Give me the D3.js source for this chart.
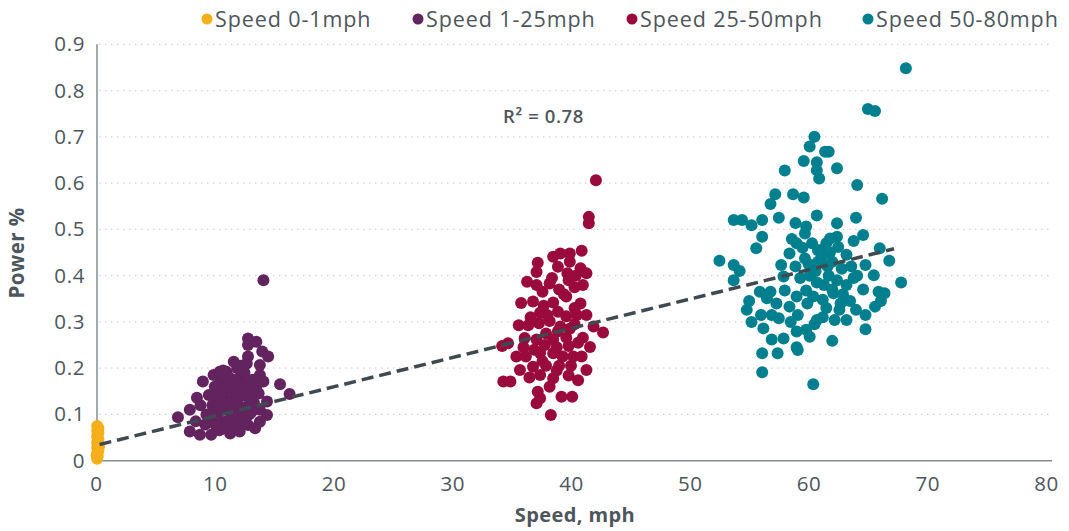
<!DOCTYPE html>
<html>
<head>
<meta charset="utf-8">
<script src="https://cdn.jsdelivr.net/npm/d3@7"></script>
<style>
  body { margin: 0; background: #fff; }
  svg { display: block; font-family: "Open Sans", sans-serif; }
</style>
</head>
<body>
<svg id="chart" width="1069" height="531"></svg>
<script>
// series names and colours
const seriesNames = ["Speed 0-1mph", "Speed 1-25mph", "Speed 25-50mph", "Speed 50-80mph"];
const seriesColors = ["#F4AF1B", "#63235F", "#9A0A3C", "#00808F"];

// [speed mph, power fraction]
const idlePts = [
  [0.1,0.004],[0.15,0.010],[0.1,0.016],[0.2,0.022],[0.1,0.028],[0.15,0.034],[0.1,0.040],[0.2,0.046],
  [0.1,0.052],[0.15,0.058],[0.1,0.064],[0.2,0.070],[0.1,0.075],[0.25,0.030],[0.05,0.012],[0.2,0.060]
];

const lowPts = [
  [6.9,0.094],[7.9,0.110],[8.5,0.136],[9.0,0.171],[9.5,0.142],[8.8,0.120],[7.9,0.063],[8.75,0.056],
  [9.7,0.056],[10.4,0.066],[11.3,0.059],[12.1,0.063],[12.8,0.077],[13.8,0.084],[14.4,0.099],[14.4,0.128],
  [13.8,0.110],[12.8,0.264],[13.5,0.257],[12.8,0.250],[14.0,0.236],[14.5,0.225],[12.8,0.225],[12.7,0.210],
  [11.6,0.214],[12.2,0.205],[13.8,0.207],[13.8,0.185],[14.1,0.171],[13.5,0.160],[15.5,0.165],[16.3,0.144],
  [10.4,0.192],[11.0,0.192],[9.9,0.185],[14.1,0.390],
  [10.0,0.160],[10.5,0.170],[11.2,0.180],[11.8,0.175],[12.3,0.185],[10.2,0.140],[10.8,0.150],[11.5,0.155],
  [12.0,0.160],[12.6,0.165],[13.1,0.150],[9.8,0.120],[10.4,0.125],[11.0,0.130],[11.6,0.135],[12.2,0.140],
  [12.9,0.135],[13.3,0.125],[9.3,0.100],[10.0,0.105],[10.7,0.110],[11.3,0.115],[11.9,0.110],[12.5,0.115],
  [13.1,0.105],[9.6,0.085],[10.3,0.090],[11.0,0.085],[11.7,0.090],[12.3,0.095],[12.9,0.100],[10.1,0.075],
  [10.8,0.070],[11.6,0.075],[12.4,0.080],[9.2,0.078],[13.4,0.070],[8.4,0.085],[13.7,0.145],[12.5,0.190],
  [11.9,0.200],[10.7,0.195],[12.0,0.120],[11.4,0.100],[10.6,0.140],[12.7,0.150],[13.2,0.175],[11.3,0.165]
];

const midPts = [
  [42.1,0.606],[41.5,0.527],[41.5,0.513],[40.9,0.454],[39.9,0.448],[39.1,0.448],[38.5,0.441],[38.9,0.419],
  [37.2,0.428],[37.1,0.408],[36.3,0.387],[37.1,0.380],[40.8,0.416],[41.3,0.405],[39.7,0.405],[41.0,0.380],
  [40.3,0.375],[38.2,0.383],[39.0,0.370],[39.6,0.355],[35.8,0.341],[36.8,0.344],[37.7,0.335],[38.5,0.342],
  [40.8,0.340],[40.3,0.330],[41.3,0.315],[40.5,0.315],[39.6,0.312],[35.6,0.293],[36.4,0.293],[37.3,0.297],
  [38.2,0.302],[39.1,0.290],[41.9,0.290],[42.7,0.277],[34.2,0.248],[34.7,0.254],[36.1,0.265],[37.1,0.262],
  [38.5,0.262],[39.6,0.266],[41.0,0.266],[41.6,0.246],[35.4,0.225],[36.2,0.225],[37.4,0.233],[38.5,0.232],
  [40.2,0.225],[40.9,0.225],[35.7,0.196],[36.8,0.203],[37.9,0.205],[39.0,0.205],[41.3,0.196],[40.6,0.174],
  [39.8,0.184],[34.3,0.171],[34.9,0.171],[37.4,0.185],[38.5,0.178],[38.2,0.160],[37.2,0.149],[37.1,0.124],
  [37.4,0.135],[39.2,0.138],[40.1,0.138],[38.3,0.099],
  [37.8,0.250],[38.8,0.245],[39.8,0.248],[37.9,0.275],[38.9,0.280],[39.9,0.285],[40.3,0.295],[38.0,0.315],
  [38.9,0.322],[37.4,0.320],[36.9,0.240],[39.3,0.225],[38.8,0.195],[39.4,0.360],[38.4,0.395],[39.8,0.390],
  [40.4,0.400],[39.9,0.430],[37.6,0.365],[36.6,0.310],[36.0,0.245],[40.6,0.255],[40.0,0.205],[37.6,0.215],
  [36.5,0.180]
];

const highPts = [
  [65.0,0.760],[65.6,0.756],[68.2,0.848],[60.5,0.700],[60.1,0.679],[61.4,0.668],[61.7,0.668],[59.6,0.648],
  [60.7,0.645],[62.4,0.632],[60.7,0.628],[60.9,0.610],[58.0,0.627],[64.1,0.596],[66.2,0.566],[57.2,0.576],
  [56.8,0.555],[58.7,0.576],[59.6,0.569],[53.7,0.520],[54.4,0.520],[55.2,0.509],[56.1,0.520],[57.5,0.525],
  [60.7,0.530],[58.9,0.514],[59.8,0.506],[59.7,0.491],[62.4,0.513],[64.0,0.525],[56.1,0.484],[58.6,0.479],
  [55.6,0.459],[64.6,0.488],[63.8,0.475],[62.4,0.484],[61.5,0.470],[60.8,0.455],[62.5,0.462],[58.4,0.448],
  [59.7,0.437],[52.5,0.432],[53.7,0.423],[54.2,0.410],[57.7,0.423],[58.9,0.420],[61.1,0.440],[62.0,0.430],
  [63.2,0.445],[66.0,0.459],[66.8,0.432],[53.7,0.390],[57.9,0.398],[60.1,0.400],[61.7,0.400],[62.4,0.390],
  [64.8,0.423],[65.5,0.401],[64.1,0.400],[67.8,0.385],[55.9,0.365],[56.8,0.365],[56.5,0.351],[58.0,0.368],
  [59.0,0.355],[59.8,0.368],[60.7,0.385],[61.2,0.348],[63.2,0.380],[64.6,0.370],[65.9,0.365],[66.4,0.362],
  [66.1,0.345],[65.6,0.333],[62.1,0.362],[54.8,0.326],[55.2,0.300],[56.0,0.315],[56.9,0.315],[57.5,0.308],
  [56.2,0.286],[58.4,0.333],[59.1,0.315],[59.9,0.340],[60.7,0.304],[60.5,0.295],[62.6,0.326],[62.2,0.304],
  [63.2,0.304],[63.5,0.345],[64.0,0.326],[64.8,0.315],[64.8,0.284],[56.9,0.262],[57.9,0.264],[59.0,0.279],
  [59.8,0.283],[60.1,0.268],[59.0,0.245],[59.1,0.239],[62.0,0.259],[56.1,0.232],[57.4,0.232],[56.1,0.191],
  [60.4,0.165],
  [59.5,0.460],[60.3,0.470],[61.0,0.455],[61.8,0.450],[60.0,0.425],[60.8,0.430],[61.6,0.420],[62.8,0.415],
  [63.6,0.420],[59.3,0.395],[60.6,0.410],[61.3,0.380],[62.0,0.370],[62.9,0.360],[60.4,0.355],[61.5,0.330],
  [62.7,0.340],[63.8,0.395],[58.5,0.300],[61.2,0.310],[57.3,0.340],[55.0,0.345],[61.8,0.480],[59.0,0.470]
];

const seriesPoints = [idlePts, lowPts, midPts, highPts];

// linear trend
const trendSpeed = [0.3, 67.2];
const trendPower = [0.035, 0.458];
const rSquaredLabel = "R\u00B2 = 0.78";

const xTicks = [0, 10, 20, 30, 40, 50, 60, 70, 80];
const yTicks = [0, 0.1, 0.2, 0.3, 0.4, 0.5, 0.6, 0.7, 0.8, 0.9];

const svg = d3.select("#chart");
const textColor = "#4D565D";

const x = d3.scaleLinear().domain([0, 80]).range([96, 1046]);
const y = d3.scaleLinear().domain([0, 0.9]).range([460.7, 44.3]);
const plotLeft = 97, plotRight = 1052;

// gridlines
svg.append("g")
  .selectAll("line")
  .data(yTicks.filter(d => d > 0))
  .join("line")
  .attr("x1", plotLeft + 2)
  .attr("x2", plotRight - 2)
  .attr("y1", d => y(d))
  .attr("y2", d => y(d))
  .attr("stroke", "#D3D3D3")
  .attr("stroke-width", 1.3)
  .attr("stroke-dasharray", "1.5,4.5");

// axis lines
svg.append("line")
  .attr("x1", plotLeft).attr("x2", plotRight)
  .attr("y1", y(0)).attr("y2", y(0))
  .attr("stroke", "#858C92").attr("stroke-width", 1.5);
svg.append("line")
  .attr("x1", plotLeft).attr("x2", plotLeft)
  .attr("y1", y(0)).attr("y2", y(0.9))
  .attr("stroke", "#858C92").attr("stroke-width", 1.5);

// tick labels
const xAxis = svg.append("g")
  .attr("transform", `translate(0,${y(0)})`)
  .call(d3.axisBottom(x).tickValues(xTicks).tickSize(0).tickPadding(16).tickFormat(d3.format("d")));
xAxis.select(".domain").remove();
xAxis.selectAll("text").attr("font-size", 20.5).attr("letter-spacing", 0.6)
  .attr("fill", textColor).attr("font-family", "Open Sans");

const yAxis = svg.append("g")
  .attr("transform", `translate(${plotLeft - 12},0)`)
  .call(d3.axisLeft(y).tickValues(yTicks).tickSize(0).tickPadding(0).tickFormat(d => d === 0 ? "0" : d3.format(".1f")(d)));
yAxis.select(".domain").remove();
yAxis.selectAll("text").attr("font-size", 20.5).attr("letter-spacing", 0.6)
  .attr("fill", textColor).attr("font-family", "Open Sans");

// points
seriesPoints.forEach((pts, i) => {
  svg.append("g")
    .selectAll("circle")
    .data(pts)
    .join("circle")
    .attr("cx", d => x(d[0]))
    .attr("cy", d => y(d[1]))
    .attr("r", 6)
    .attr("fill", seriesColors[i]);
});

// trend line
svg.append("line")
  .attr("x1", x(trendSpeed[0])).attr("y1", y(trendPower[0]))
  .attr("x2", x(trendSpeed[1])).attr("y2", y(trendPower[1]))
  .attr("stroke", "#3F4950")
  .attr("stroke-width", 3.5)
  .attr("stroke-dasharray", "12,6");

svg.append("text")
  .attr("x", 503).attr("y", 123)
  .attr("font-size", 18.5).attr("font-weight", 600).attr("letter-spacing", 0.6)
  .attr("fill", textColor)
  .text(rSquaredLabel);

// axis titles
svg.append("text")
  .attr("x", 575).attr("y", 522)
  .attr("text-anchor", "middle")
  .attr("font-size", 20).attr("font-weight", 700).attr("letter-spacing", 0.4)
  .attr("fill", textColor)
  .text("Speed, mph");

svg.append("text")
  .attr("transform", `translate(24,253) rotate(-90)`)
  .attr("text-anchor", "middle")
  .attr("font-size", 20.5).attr("font-weight", 700).attr("letter-spacing", 0.4)
  .attr("fill", textColor)
  .text("Power %");

// legend
const legendX = [207, 418, 632, 868];
const legend = svg.append("g");
seriesNames.forEach((name, i) => {
  legend.append("circle")
    .attr("cx", legendX[i]).attr("cy", 19).attr("r", 5.5)
    .attr("fill", seriesColors[i]);
  legend.append("text")
    .attr("x", legendX[i] + 8).attr("y", 26.5)
    .attr("font-size", 21.5).attr("letter-spacing", 0.9)
    .attr("fill", textColor)
    .text(name);
});
</script>
</body>
</html>
